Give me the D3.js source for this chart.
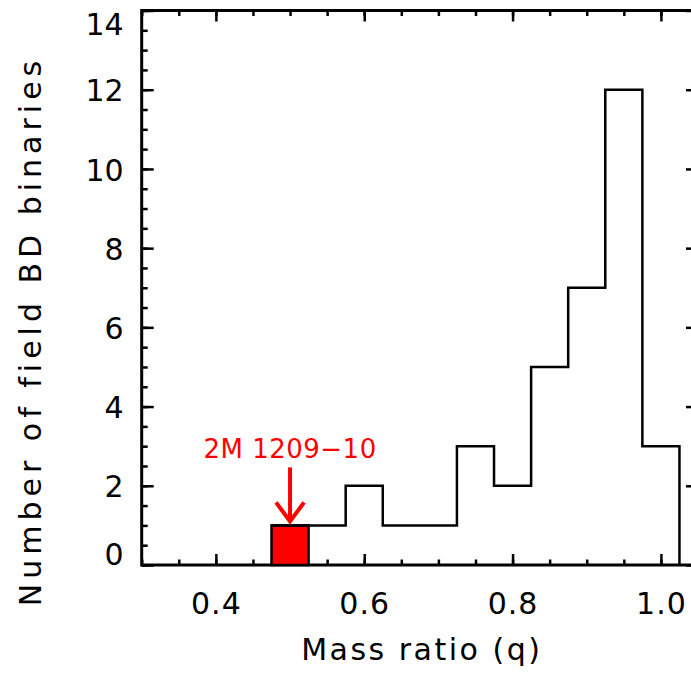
<!DOCTYPE html>
<html>
<head>
<meta charset="utf-8">
<script src="https://cdn.jsdelivr.net/npm/d3@7"></script>
<style>
  html, body { margin: 0; padding: 0; background: #fff; }
  svg { display: block; }
  text { font-family: "DejaVu Sans", sans-serif; }
</style>
</head>
<body>
<svg id="chart" width="691" height="673"></svg>
<script>
// ---- data ----
const binLeft  = [0.475, 0.525, 0.575, 0.625, 0.675, 0.725, 0.775, 0.825, 0.875, 0.925, 0.975];
const counts   = [1, 1, 2, 1, 1, 3, 2, 5, 7, 12, 3];
const binWidth = 0.05;
const highlightIndex = 0;
const highlightLabel = "2M 1209\u221210";
const xMajorTicks = [0.4, 0.6, 0.8, 1.0];
const xMinorTicks = [0.3, 0.35, 0.4, 0.45, 0.5, 0.55, 0.6, 0.65, 0.7, 0.75, 0.8, 0.85, 0.9, 0.95, 1.0, 1.05];
const yMajorTicks = [0, 2, 4, 6, 8, 10, 12, 14];
const yMinorTicks = [0, 0.5, 1, 1.5, 2, 2.5, 3, 3.5, 4, 4.5, 5, 5.5, 6, 6.5, 7, 7.5, 8, 8.5, 9, 9.5, 10, 10.5, 11, 11.5, 12, 12.5, 13, 13.5, 14];
const xTitle = "Mass ratio (q)";
const yTitle = "Number of field BD binaries";

// ---- layout ----
const L = 141.7, R = 698, T = 10.5, B = 565;
const svg = d3.select("#chart");
const x = d3.scaleLinear().domain([0.3, 1.05]).range([L, R]);
const y = d3.scaleLinear().domain([0, 14]).range([B, T]);

const fmtX = d3.format(".1f");

function styleAxis(g) {
  g.select(".domain").remove();
  g.selectAll(".tick line").attr("stroke", "#000").attr("stroke-width", 2.5);
  g.selectAll(".tick text").attr("fill", "#000").style("font-size", "30px")
    .style("font-family", '"DejaVu Sans", sans-serif');
}

// bottom
svg.append("g").attr("transform", `translate(0,${B})`)
  .call(d3.axisBottom(x).tickValues(xMinorTicks).tickSize(-5.5).tickFormat(""))
  .call(styleAxis);
svg.append("g").attr("transform", `translate(0,${B})`)
  .call(d3.axisBottom(x).tickValues(xMajorTicks).tickSize(-11).tickPadding(28).tickFormat(fmtX))
  .call(styleAxis)
  .selectAll(".tick text").attr("letter-spacing", "1px");
// top
svg.append("g").attr("transform", `translate(0,${T})`)
  .call(d3.axisTop(x).tickValues(xMinorTicks).tickSize(-5.5).tickFormat(""))
  .call(styleAxis);
svg.append("g").attr("transform", `translate(0,${T})`)
  .call(d3.axisTop(x).tickValues(xMajorTicks).tickSize(-11).tickFormat(""))
  .call(styleAxis);
// left
svg.append("g").attr("transform", `translate(${L},0)`)
  .call(d3.axisLeft(y).tickValues(yMinorTicks).tickSize(-6).tickFormat(""))
  .call(styleAxis);
const leftMajor = svg.append("g").attr("transform", `translate(${L},0)`)
  .call(d3.axisLeft(y).tickValues(yMajorTicks).tickSize(-12).tickPadding(18).tickFormat(d3.format("d")))
  .call(styleAxis);
leftMajor.selectAll(".tick text")
  .attr("dy", d => d === 0 ? "-0.02em" : (d === 14 ? "0.80em" : "0.37em"));
// right
svg.append("g").attr("transform", `translate(${R},0)`)
  .call(d3.axisRight(y).tickValues(yMinorTicks).tickSize(-6).tickFormat(""))
  .call(styleAxis);
svg.append("g").attr("transform", `translate(${R},0)`)
  .call(d3.axisRight(y).tickValues(yMajorTicks).tickSize(-12).tickFormat(""))
  .call(styleAxis);

// frame
svg.append("rect")
  .attr("x", L).attr("y", T).attr("width", R - L).attr("height", B - T)
  .attr("fill", "none").attr("stroke", "#000").attr("stroke-width", 3);

// highlighted bin
svg.append("rect")
  .attr("x", x(binLeft[highlightIndex]))
  .attr("y", y(counts[highlightIndex]))
  .attr("width", x(binLeft[highlightIndex] + binWidth) - x(binLeft[highlightIndex]))
  .attr("height", y(0) - y(counts[highlightIndex]))
  .attr("fill", "#ff0000").attr("stroke", "#000").attr("stroke-width", 2.5);

// histogram step outline
const pts = binLeft.map((b, i) => [b, counts[i]]);
pts.push([binLeft[binLeft.length - 1] + binWidth, 0]);
const line = d3.line().x(d => x(d[0])).y(d => y(d[1])).curve(d3.curveStepAfter);
svg.append("path").attr("d", line(pts))
  .attr("fill", "none").attr("stroke", "#000").attr("stroke-width", 2.5)
  .attr("stroke-linejoin", "miter");

// annotation arrow + label
const hx = x(binLeft[highlightIndex] + binWidth / 2);
const tipY = y(counts[highlightIndex]) - 4;
svg.append("line").attr("x1", hx).attr("x2", hx).attr("y1", tipY - 54).attr("y2", tipY)
  .attr("stroke", "#ff0000").attr("stroke-width", 4);
svg.append("path")
  .attr("d", `M${hx - 14},${tipY - 19} L${hx},${tipY} L${hx + 14},${tipY - 19}`)
  .attr("fill", "none").attr("stroke", "#ff0000").attr("stroke-width", 4)
  .attr("stroke-linejoin", "miter");
svg.append("text").attr("x", hx).attr("y", tipY - 63)
  .attr("text-anchor", "middle").attr("fill", "#ff0000")
  .attr("letter-spacing", "0.5px")
  .style("font-size", "26px").text(highlightLabel);

// axis titles
svg.append("text").attr("x", (L + R) / 2 + 2).attr("y", 660)
  .attr("text-anchor", "middle").attr("fill", "#000")
  .style("font-size", "30px").attr("letter-spacing", "2.5px").text(xTitle);
svg.append("text")
  .attr("transform", `translate(41,331) rotate(-90)`)
  .attr("text-anchor", "middle").attr("fill", "#000")
  .style("font-size", "30px").attr("letter-spacing", "5px").text(yTitle);
</script>
</body>
</html>
